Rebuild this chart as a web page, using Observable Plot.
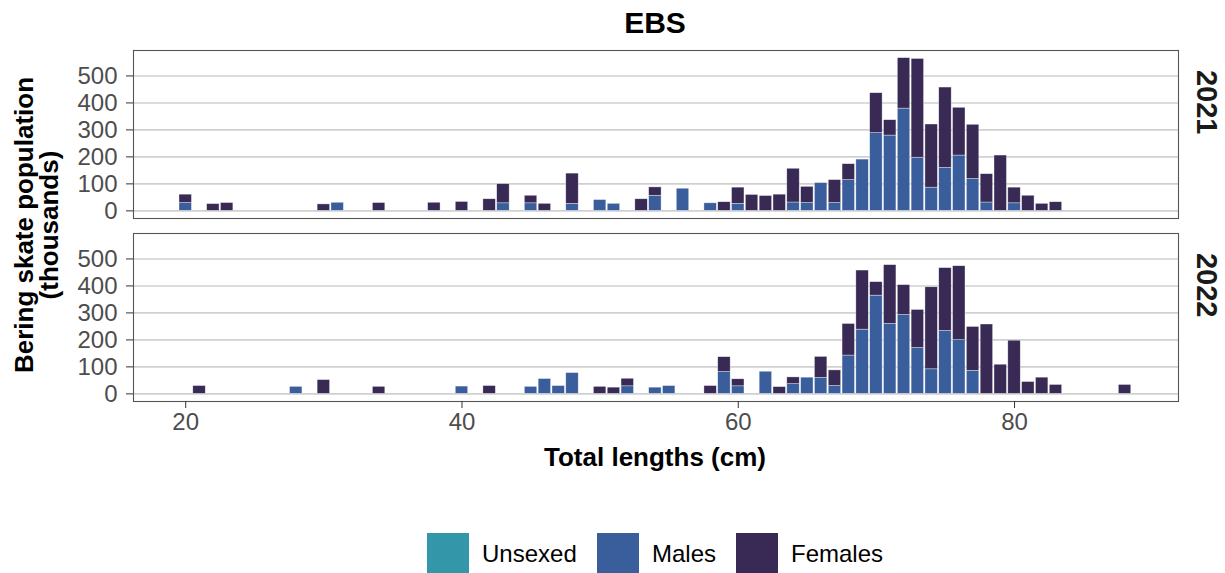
<!DOCTYPE html>
<html>
<head>
<meta charset="utf-8">
<script src="https://cdn.jsdelivr.net/npm/d3@7"></script>
<script src="https://cdn.jsdelivr.net/npm/@observablehq/plot@0.6"></script>
<style>
  html, body { margin: 0; padding: 0; background: #fff; }
  body { font-family: "Liberation Sans", Arial, Helvetica, sans-serif; }
  #wrap { position: relative; width: 1225px; height: 573px; overflow: hidden; }
  #title { position: absolute; left: 355px; width: 600px; top: 8px; text-align: center;
           font-weight: bold; font-size: 30px; line-height: 30px; color: #000; }
  #ylab { position: absolute; left: 37px; top: 225px; transform: translate(-50%, -50%) rotate(-90deg);
          white-space: nowrap; text-align: center; font-weight: bold; font-size: 26px; line-height: 25px; color: #000; z-index: 5; }
  #xlab { position: absolute; left: 355px; width: 600px; top: 444px; text-align: center;
          font-weight: bold; font-size: 26px; line-height: 26px; color: #000; }
  #chart { position: absolute; left: 0; top: 40px; z-index: 1; }
  .lg { position: absolute; top: 533px; height: 42px; display: flex; align-items: center; }
  .lg .sw { width: 42px; height: 42px; margin-right: 13px; }
  .lg .tx { font-size: 24px; color: #000; white-space: nowrap; }
</style>
</head>
<body>
<div id="wrap">
  <div id="title">EBS</div>
  <div id="chart"></div>
  <div id="ylab">Bering skate population<br>(thousands)</div>
  <div id="xlab">Total lengths (cm)</div>
  <div id="legend"></div>
</div>
<script>
// ---- data (thousands of skates per 1 cm length bin) ----
const years = [2021, 2022];
const sexes = ["Unsexed", "Males", "Females"];
const sexColors = ["#3497A9", "#3A5D9C", "#382A54"];

const len2021     = [20,22,23,30,31,34,38,40,42,43,45,46,48,50,51,53,54,56,58,59,60,61,62,63,64,65,66,67,68,69,70,71,72,73,74,75,76,77,78,79,80,81,82,83];
const males2021   = [29, 0, 0, 0,30, 0, 0, 0, 0,28,28, 0,26,40,26, 0,56,82,28, 0,26, 0, 0, 0,31,29,103,29,114,190,288,279,379,197,86,159,205,118,31, 0,28, 0, 0, 0];
const females2021 = [31,25,29,24, 0,29,30,33,43,71,28,26,112,0, 0,43,31, 0, 0,32,60,59,55,60,125,60, 0,85,59, 0,148,57,187,366,234,298,177,201,105,205,58,56,26,32];
const unsexed2021 = len2021.map(() => 0);

const len2022     = [21,28,30,34,40,42,45,46,47,48,50,51,52,54,55,58,59,60,62,63,64,65,66,67,68,69,70,71,72,73,74,75,76,77,78,79,80,81,82,83,88];
const males2022   = [ 0,26, 0, 0,27, 0,26,55,29,77, 0, 0,28,23,29, 0,81,28,82, 0,36,60,59,29,142,238,364,259,292,170,91,233,199,85, 0, 0, 0, 0, 0, 0, 0];
const females2022 = [29, 0,51,26, 0,29, 0, 0, 0, 0,26,23,28, 0, 0,29,55,26, 0,25,25, 0,78,58,117,219,50,218,111,141,304,233,274,163,257,108,197,44,60,33,33];
const unsexed2022 = len2022.map(() => 0);

const yTicks = [0, 100, 200, 300, 400, 500];
const xTicks = [20, 40, 60, 80];

// ---- build long table ----
function addYear(rows, year, lens, series) {
  for (const [sex, vals] of series) {
    lens.forEach((L, i) => { if (vals[i] > 0) rows.push({year, length: L, sex, value: vals[i]}); });
  }
}
const rows = [];
addYear(rows, 2021, len2021, [["Unsexed", unsexed2021], ["Males", males2021], ["Females", females2021]]);
addYear(rows, 2022, len2022, [["Unsexed", unsexed2022], ["Males", males2022], ["Females", females2022]]);

const chart = Plot.plot({
  width: 1225,
  height: 400,
  marginLeft: 133,
  marginRight: 47,
  marginTop: 9,
  marginBottom: 38,
  style: {fontFamily: "Liberation Sans, Arial, Helvetica, sans-serif", fontSize: "24px", background: "transparent"},
  x: {domain: [16.22, 91.87]},
  y: {domain: [-28.3, 594.3]},
  fy: {domain: years, paddingInner: 0.0815, paddingOuter: 0, axis: null},
  color: {domain: sexes, range: sexColors},
  marks: [
    Plot.gridY(yTicks, {stroke: "#d0d0d0", strokeOpacity: 1, strokeWidth: 1.6}),
    Plot.rect(rows, Plot.stackY({
      x: "length",
      x1: d => d.length - 0.45,
      x2: d => d.length + 0.45,
      y: "value",
      fy: "year",
      fill: "sex",
      order: sexes.slice(1),
      stroke: "#ffffff",
      strokeWidth: 0.6,
      strokeOpacity: 0.6
    })),
    Plot.frame({stroke: "#555555", strokeWidth: 1.1}),
    Plot.axisY(yTicks, {tickSize: 7, tickPadding: 9, fontSize: 24, color: "#4d4d4d", stroke: "#333", label: null}),
    Plot.axisX(xTicks, {tickSize: 7, tickPadding: 4, fontSize: 24, color: "#4d4d4d", stroke: "#333", label: null}),
    Plot.text(years, {fy: d => d, text: d => String(d), frameAnchor: "right", dx: 28, rotate: 90,
                      fontSize: 29, fontWeight: "bold", fill: "#1a1a1a"})
  ]
});
document.getElementById("chart").appendChild(chart);

// ---- legend ----
const legendX = [427, 597, 736];
const lg = document.getElementById("legend");
sexes.forEach((s, i) => {
  const item = document.createElement("div");
  item.className = "lg";
  item.style.left = legendX[i] + "px";
  item.innerHTML = `<div class="sw" style="background:${sexColors[i]}"></div><div class="tx">${s}</div>`;
  lg.appendChild(item);
});
</script>
</body>
</html>
